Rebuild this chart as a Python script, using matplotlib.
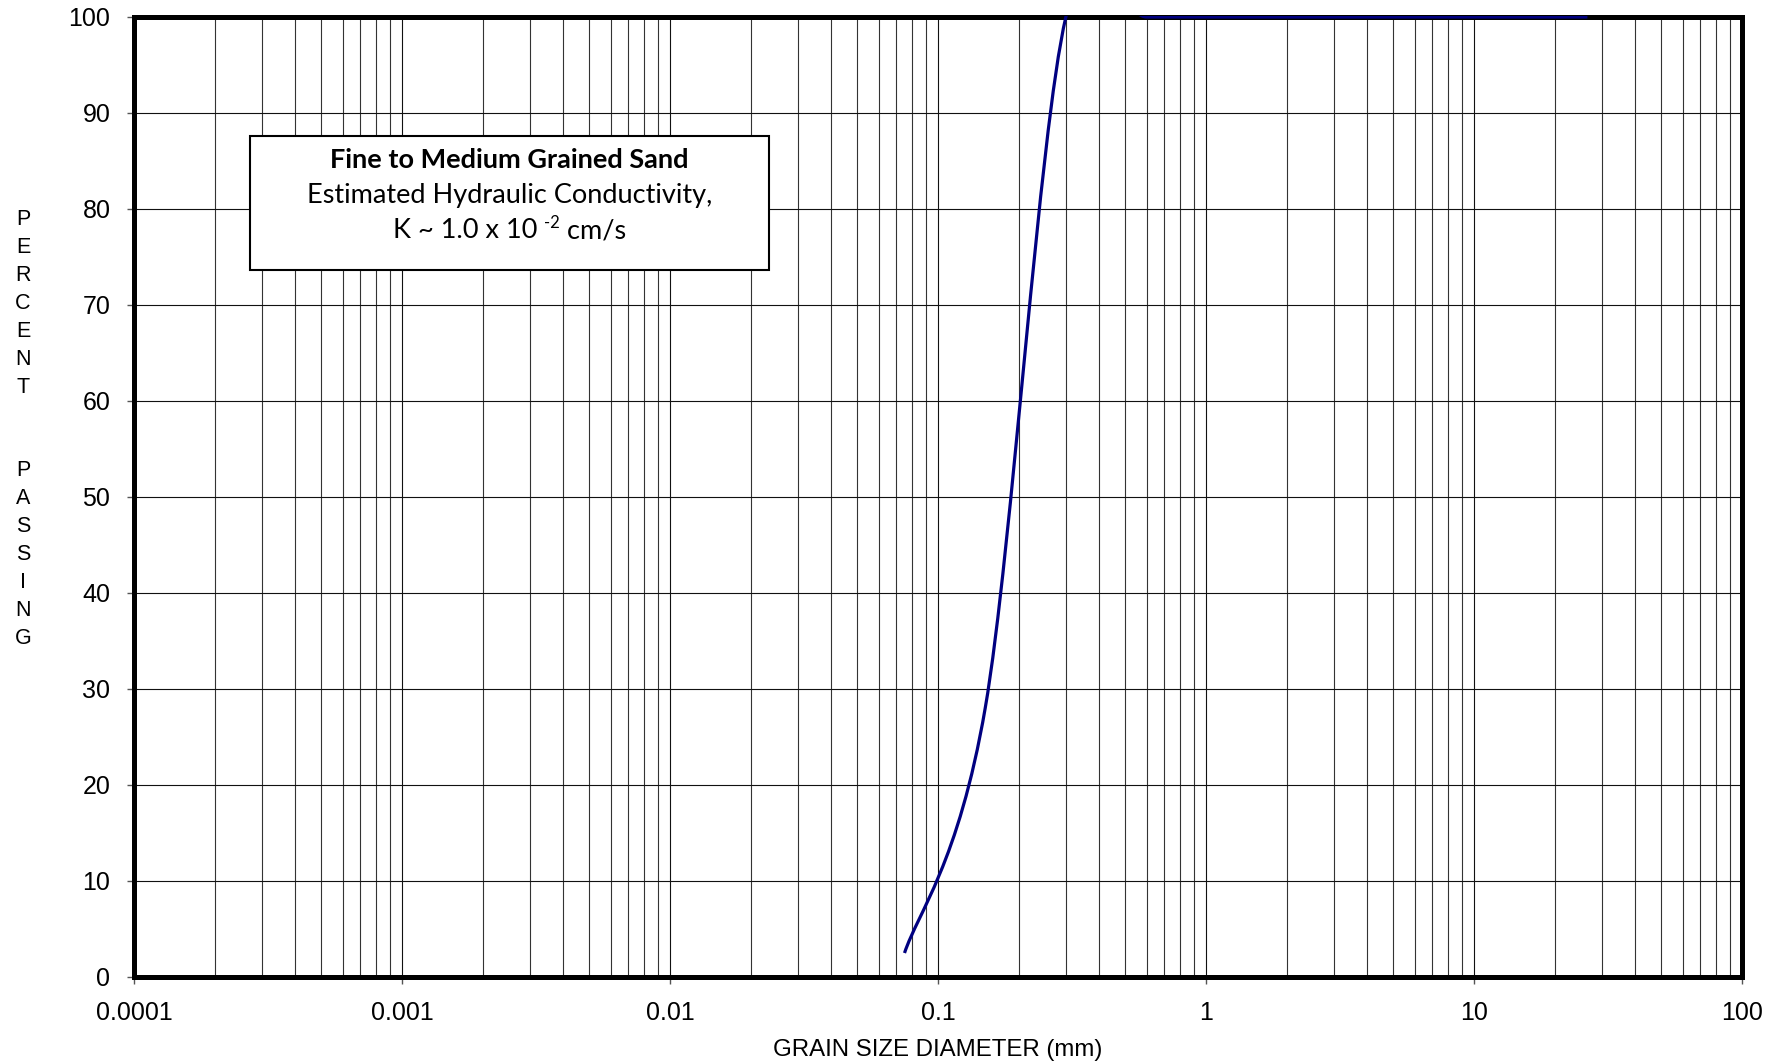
import numpy as np
import matplotlib
matplotlib.use("Agg")
import matplotlib.pyplot as plt
from matplotlib.path import Path
from matplotlib.patches import PathPatch, Rectangle
from matplotlib.ticker import FixedLocator, FuncFormatter, LogLocator, NullFormatter

# ---- data ----
sieve_mm = [0.075, 0.15, 0.3, 0.6, 1.18, 2.36, 4.75, 9.5, 19.0, 26.5]
percent_passing = [2.5, 28.0, 100, 100, 100, 100, 100, 100, 100, 100]
x_ticks = [0.0001, 0.001, 0.01, 0.1, 1, 10, 100]
y_ticks = [0, 10, 20, 30, 40, 50, 60, 70, 80, 90, 100]
box_title = "Fine to Medium Grained Sand"
box_line2 = "Estimated Hydraulic Conductivity,"
box_line3a = "K ~ 1.0 x 10 "
box_line3_sup = "-2"
box_line3b = " cm/s"
x_label = "GRAIN SIZE DIAMETER (mm)"
y_label = "P\nE\nR\nC\nE\nN\nT\n\n\nP\nA\nS\nS\nI\nN\nG"

plt.rcParams['font.family'] = ['Liberation Sans', 'DejaVu Sans']

W, H = 1782, 1063
fig = plt.figure(figsize=(W / 100, H / 100), dpi=100)
L, R, T, B = 134, 1742, 17, 977
ax = fig.add_axes([L / W, 1 - B / H, (R - L) / W, (B - T) / H])

ax.set_xscale('log')
ax.set_xlim(0.0001, 100)
ax.set_ylim(0, 100)

# grid
ax.xaxis.set_major_locator(FixedLocator(x_ticks))
ax.xaxis.set_minor_locator(LogLocator(base=10, subs=np.arange(2, 10), numticks=100))
ax.xaxis.set_major_formatter(FuncFormatter(lambda v, p: f"{v:g}"))
ax.xaxis.set_minor_formatter(NullFormatter())
ax.yaxis.set_major_locator(FixedLocator(y_ticks))
ax.grid(True, which='major', axis='both', color='#111111', linewidth=0.8)
ax.grid(True, which='minor', axis='x', color='#333333', linewidth=0.8)
ax.tick_params(axis='both', which='major', direction='out', length=5, width=1,
               labelsize=18, pad=12, color='#555555')
ax.tick_params(axis='x', which='minor', length=0)
for s in ax.spines.values():
    s.set_linewidth(3.6)
    s.set_color('black')

# smoothed curve (Catmull-Rom style bezier through the data points, in log-x space)
lx = np.log10(np.array(sieve_mm, dtype=float))
yy = np.array(percent_passing, dtype=float)
pts = np.column_stack([lx, yy])
ext = np.vstack([pts[0], pts, pts[-1]])
verts = [pts[0]]
codes = [Path.MOVETO]
for i in range(len(pts) - 1):
    p0, p1, p2, p3 = ext[i], ext[i + 1], ext[i + 2], ext[i + 3]
    c1 = p1 + (p2 - p0) / 6.0
    c2 = p2 - (p3 - p1) / 6.0
    verts += [c1, c2, p2]
    codes += [Path.CURVE4] * 3
verts = np.array(verts)
verts[:, 0] = 10 ** verts[:, 0]
patch = PathPatch(Path(verts, codes), fill=False, edgecolor='#000080', linewidth=2.3,
                  transform=ax.transData, zorder=3)
ax.add_patch(patch)
clip_rect = Rectangle((0, 0), 1, 1 + 1.5 / (B - T), transform=ax.transAxes)
patch.set_clip_path(clip_rect)

# text box
bx0, bx1 = (250 - L) / (R - L), (769 - L) / (R - L)
by1, by0 = (B - 136) / (B - T), (B - 270) / (B - T)
ax.add_patch(Rectangle((bx0, by0), bx1 - bx0, by1 - by0, transform=ax.transAxes,
                       facecolor='white', edgecolor='black', linewidth=1.5, zorder=4))
cx = (bx0 + bx1) / 2
box_font = ['Lato', 'DejaVu Sans']
FS = 19.5
ax.text(cx, (B - 160) / (B - T), box_title, transform=ax.transAxes, ha='center', va='center',
        fontsize=FS, fontweight='bold', family=box_font, zorder=5)
ax.text(cx, (B - 195.5) / (B - T), box_line2, transform=ax.transAxes, ha='center', va='center',
        fontsize=FS, family=box_font, zorder=5)

# third line with superscript, laid out piecewise
y3 = (B - 231) / (B - T)
fig.canvas.draw()
rend = fig.canvas.get_renderer()
tmp = [ax.text(0, 0, s, fontsize=fs, family=box_font) for s, fs in
       [(box_line3a, FS), (box_line3_sup, 12), (box_line3b, FS)]]
widths = [t.get_window_extent(rend).width for t in tmp]
for t in tmp:
    t.remove()
axw = ax.get_window_extent(rend).width
total = sum(widths) / axw
x0 = cx - total / 2
ax.text(x0, y3, box_line3a, transform=ax.transAxes, ha='left', va='center',
        fontsize=FS, family=box_font, zorder=5)
ax.text(x0 + widths[0] / axw, y3 + 0.008, box_line3_sup, transform=ax.transAxes, ha='left',
        va='center', fontsize=12, family=box_font, zorder=5)
ax.text(x0 + (widths[0] + widths[1]) / axw, y3, box_line3b, transform=ax.transAxes, ha='left',
        va='center', fontsize=FS, family=box_font, zorder=5)

# axis labels
fig.text(((L + R) / 2) / W, 1 - 1050 / H, x_label, ha='center', va='center', fontsize=17.3)
fig.text(23 / W, 1 - 429 / H, y_label, ha='center', va='center', fontsize=15.5,
         linespacing=1.43, multialignment='center')

fig.savefig('out.png', dpi=100)
